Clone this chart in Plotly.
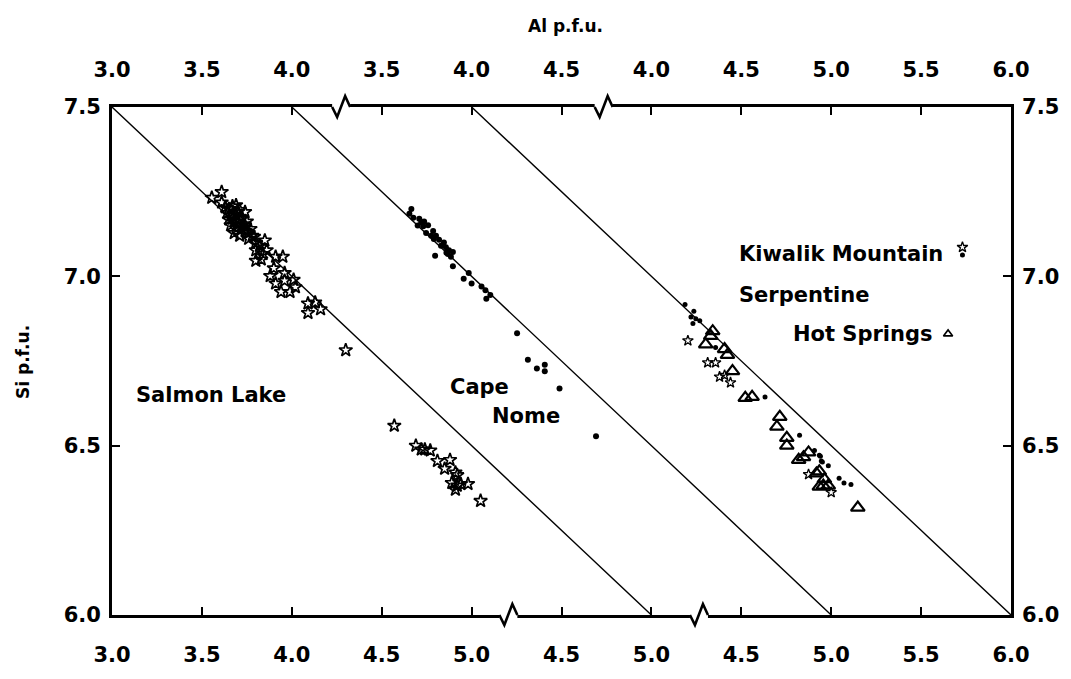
import plotly.graph_objects as go

# ---------------- data (Al p.f.u. read on each panel's own scale, Si p.f.u.) ----------------
salmon_al = [3.555, 3.61, 3.61, 3.63, 3.65, 3.67, 3.69, 3.71, 3.74, 3.64, 3.66, 3.69, 3.71, 3.65,
             3.68, 3.70, 3.73, 3.75, 3.66, 3.69, 3.72, 3.74, 3.76, 3.68, 3.71, 3.76, 3.79, 3.80,
             3.85, 3.80, 3.86, 3.80, 3.84, 3.91, 3.95, 3.90, 3.88, 3.96, 3.91, 3.96, 4.01, 3.94,
             3.99, 4.02, 4.09, 4.13, 4.09, 4.16, 4.30, 4.57, 4.69, 4.72, 4.74, 4.77, 4.81, 4.88,
             4.85, 4.91, 4.92, 4.89, 4.94, 4.98, 4.91, 4.92, 5.05, 3.70, 3.72, 3.67, 3.74, 3.77,
             3.78, 3.82, 3.83]
salmon_si = [7.232, 7.249, 7.218, 7.204, 7.199, 7.207, 7.210, 7.196, 7.190, 7.187, 7.179, 7.182,
             7.173, 7.168, 7.162, 7.159, 7.154, 7.162, 7.151, 7.142, 7.139, 7.134, 7.128, 7.128,
             7.120, 7.111, 7.117, 7.100, 7.106, 7.077, 7.077, 7.046, 7.066, 7.058, 7.058, 7.024,
             7.001, 7.010, 6.979, 6.987, 6.990, 6.954, 6.954, 6.968, 6.920, 6.923, 6.892, 6.903,
             6.782, 6.559, 6.500, 6.489, 6.489, 6.486, 6.455, 6.458, 6.432, 6.421, 6.413, 6.390,
             6.387, 6.387, 6.370, 6.382, 6.337, 7.190, 7.170, 7.170, 7.150, 7.140, 7.120, 7.090,
             7.050]

cape_al = [3.665, 3.654, 3.676, 3.709, 3.736, 3.731, 3.758, 3.747, 3.786, 3.775, 3.802, 3.819,
           3.846, 3.857, 3.874, 3.896, 3.868, 3.797, 3.885, 3.896, 3.984, 3.956, 4.000, 4.055,
           4.077, 4.104, 4.082, 4.253, 4.313, 4.363, 4.407, 4.407, 4.489, 4.692, 3.72, 3.79,
           3.83, 3.86, 3.70]
cape_si = [7.199, 7.185, 7.173, 7.170, 7.162, 7.148, 7.151, 7.128, 7.134, 7.120, 7.120, 7.108,
           7.100, 7.086, 7.077, 7.072, 7.066, 7.061, 7.058, 7.030, 7.010, 6.993, 6.979, 6.970,
           6.959, 6.945, 6.934, 6.832, 6.754, 6.728, 6.739, 6.720, 6.669, 6.528, 7.160, 7.110,
           7.090, 7.070, 7.150]

kiwalik_dot_al = [4.187, 4.236, 4.220, 4.247, 4.269, 4.231, 4.357, 4.632, 4.824, 4.907, 4.934,
                  4.951, 4.984, 5.044, 5.071, 5.110, 4.940, 4.945]
kiwalik_dot_si = [6.917, 6.897, 6.880, 6.875, 6.869, 6.861, 6.790, 6.644, 6.531, 6.486, 6.472,
                  6.452, 6.441, 6.404, 6.390, 6.385, 6.469, 6.455]
kiwalik_star_al = [4.203, 4.313, 4.357, 4.379, 4.407, 4.440, 4.874, 5.000]
kiwalik_star_si = [6.810, 6.745, 6.745, 6.703, 6.708, 6.686, 6.415, 6.362]

serp_al = [4.341, 4.330, 4.302, 4.407, 4.423, 4.451, 4.522, 4.560, 4.714, 4.698, 4.753, 4.753,
           4.819, 4.846, 4.874, 4.918, 4.934, 4.962, 4.956, 4.984, 4.934, 5.148]
serp_si = [6.838, 6.824, 6.799, 6.785, 6.768, 6.720, 6.641, 6.644, 6.585, 6.556, 6.523, 6.500,
           6.458, 6.466, 6.480, 6.418, 6.424, 6.401, 6.382, 6.382, 6.379, 6.317]

# key symbols beside the locality names (panel-3 Al scale)
key_star_al, key_star_si = [5.73], [7.086]
key_dot_al, key_dot_si = [5.73], [7.063]
key_tri_al, key_tri_si = [5.65], [6.830]

# reference (Tschermak) line, same in every panel
line_al = [3.0, 6.0]
line_si = [7.5, 6.0]

# broken Al axis: each panel is shifted along one continuous scale
panel_offsets = [0.0, 1.0, 2.0]
top_ticks = [[3.0, 3.5, 4.0], [3.5, 4.0, 4.5], [4.0, 4.5, 5.0, 5.5, 6.0]]
bottom_ticks = [[3.0, 3.5, 4.0, 4.5, 5.0], [4.5, 5.0], [4.5, 5.0, 5.5, 6.0]]
top_breaks = [4.28, 5.74]
bottom_breaks = [5.21, 6.27]
si_ticks = [6.0, 6.5, 7.0, 7.5]


def shift(vals, k):
    return [v + panel_offsets[k] for v in vals]


FONT = "DejaVu Sans"
fig = go.Figure()

for k in range(3):
    fig.add_trace(go.Scatter(x=shift(line_al, k), y=line_si, mode="lines",
                             line=dict(color="black", width=1.4), hoverinfo="skip"))

fig.add_trace(go.Scatter(x=shift(salmon_al, 0), y=salmon_si, mode="markers", name="Salmon Lake",
                         marker=dict(symbol="star-open", size=10, color="black",
                                     line=dict(color="black", width=1.7))))
fig.add_trace(go.Scatter(x=shift(cape_al, 1), y=cape_si, mode="markers", name="Cape Nome",
                         marker=dict(symbol="circle", size=6, color="black")))
fig.add_trace(go.Scatter(x=shift(kiwalik_dot_al, 2) + shift(key_dot_al, 2),
                         y=kiwalik_dot_si + key_dot_si, mode="markers",
                         name="Kiwalik Mountain", marker=dict(symbol="circle", size=5, color="black")))
fig.add_trace(go.Scatter(x=shift(kiwalik_star_al, 2) + shift(key_star_al, 2),
                         y=kiwalik_star_si + key_star_si, mode="markers",
                         name="Kiwalik Mountain", marker=dict(symbol="star-open", size=8, color="black",
                                                            line=dict(color="black", width=1.3))))
fig.add_trace(go.Scatter(x=shift(serp_al, 2), y=serp_si, mode="markers", name="Serpentine Hot Springs",
                         marker=dict(symbol="triangle-up-open", size=12, color="black",
                                     line=dict(color="black", width=2.2))))
fig.add_trace(go.Scatter(x=shift(key_tri_al, 2), y=key_tri_si, mode="markers",
                         marker=dict(symbol="triangle-up-open", size=8, color="black",
                                     line=dict(color="black", width=1.6))))

top_vals, top_text, bot_vals, bot_text = [], [], [], []
for k in range(3):
    for v in top_ticks[k]:
        top_vals.append(v + panel_offsets[k]); top_text.append(f"{v:.1f}")
    for v in bottom_ticks[k]:
        bot_vals.append(v + panel_offsets[k]); bot_text.append(f"{v:.1f}")

tickfont = dict(family=FONT, size=21, color="black", weight="bold")
axis_common = dict(showline=True, linecolor="black", linewidth=2.8, ticks="inside",
                   ticklen=8, tickwidth=2, tickcolor="black", showgrid=False, zeroline=False,
                   tickfont=tickfont)

x_lo = line_al[0] + panel_offsets[0]
x_hi = line_al[1] + panel_offsets[2]

fig.update_layout(
    width=1071, height=679, margin=dict(l=112, r=47, t=107, b=38),
    paper_bgcolor="white", plot_bgcolor="white", showlegend=False,
    xaxis=dict(range=[x_lo, x_hi], tickmode="array", tickvals=bot_vals, ticktext=bot_text,
               ticklabelstandoff=19, **axis_common),
    xaxis2=dict(range=[x_lo, x_hi], overlaying="x", side="top", tickmode="array",
                tickvals=top_vals, ticktext=top_text, ticklabelstandoff=19, matches="x",
                **axis_common),
    yaxis=dict(range=[si_ticks[0], si_ticks[-1]], tickmode="array", tickvals=si_ticks,
               ticktext=[f"{v:.1f}" for v in si_ticks], ticklabelstandoff=4, **axis_common),
    yaxis2=dict(range=[si_ticks[0], si_ticks[-1]], overlaying="y", side="right", tickmode="array",
                tickvals=si_ticks, ticktext=[f"{v:.1f}" for v in si_ticks], ticklabelstandoff=4,
                matches="y", **axis_common),
)
# dummy trace to activate the top/right axes
fig.add_trace(go.Scatter(x=[x_lo], y=[si_ticks[0]], xaxis="x2", yaxis="y2", mode="markers",
                         marker=dict(opacity=0), hoverinfo="skip"))

# axis-break zigzags
zig = "M-10,0 L-5,-10 L3,11 L8,0"
for brks, ya in ((top_breaks, 1), (bottom_breaks, 0)):
    for b in brks:
        fig.add_shape(type="line", xref="x", yref="paper", xsizemode="pixel", ysizemode="pixel",
                      xanchor=b, yanchor=ya, x0=-10, x1=8, y0=0, y1=0,
                      line=dict(color="white", width=6), layer="above")
        fig.add_shape(type="path", xref="x", yref="paper", xsizemode="pixel", ysizemode="pixel",
                      xanchor=b, yanchor=ya, path=zig, line=dict(color="black", width=2.6),
                      layer="above")

lab = dict(family=FONT, size=21, color="black", weight="bold")
notes = [
    ("Salmon Lake", 0.025, 0.433),
    ("Cape", 0.374, 0.449),
    ("Nome", 0.420, 0.391),
    ("Kiwalik Mountain", 0.695, 0.710),
    ("Serpentine", 0.695, 0.629),
    ("Hot Springs", 0.755, 0.554),
]
for t, x, y in notes:
    fig.add_annotation(text=t, x=x, y=y, xref="paper", yref="paper", xanchor="left",
                       yanchor="middle", showarrow=False, font=lab)

title_font = dict(family=FONT, size=17, color="black", weight="bold")
fig.add_annotation(text="Al p.f.u.", x=0.505, y=1.159, xref="paper", yref="paper",
                   xanchor="center", yanchor="middle", showarrow=False, font=title_font)
fig.add_annotation(text="Si p.f.u.", x=-0.099, y=0.498, xref="paper", yref="paper",
                   xanchor="center", yanchor="middle", showarrow=False, font=title_font,
                   textangle=-90)

fig.write_html("out.html")
